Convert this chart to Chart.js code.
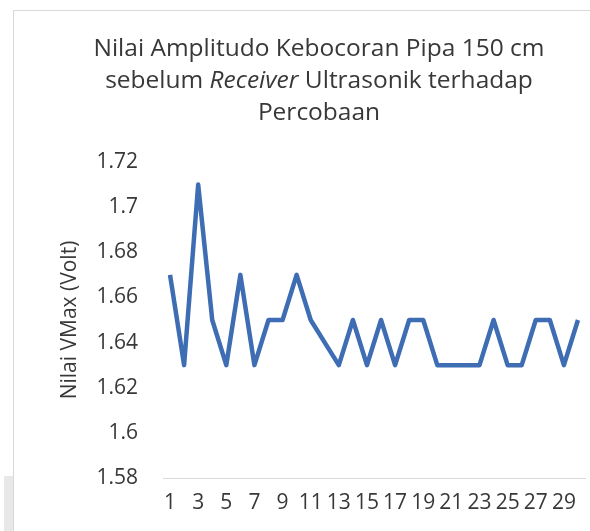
<!DOCTYPE html>
<html>
<head>
<meta charset="utf-8">
<script src="https://cdn.jsdelivr.net/npm/chart.js@4"></script>
<style>
  html, body { margin: 0; padding: 0; background: #fff; }
  #wrap { position: relative; width: 590px; height: 531px; overflow: hidden; }
  #frame { position: absolute; left: 13px; top: 10px; width: 600px; height: 600px;
           border-left: 1px solid #d9d9d9; border-top: 1px solid #d9d9d9; }
  #shade { position: absolute; left: 4px; top: 476px; width: 9px; height: 60px; background: #e8e8e8; }
  #title { position: absolute; left: 40px; width: 558px; top: 31px; text-align: center;
           font-family: "Open Sans", sans-serif; font-size: 24.5px; font-weight: 500;
           line-height: 32px; color: #383838; }
  canvas { position: absolute; left: 0; top: 0; }
</style>
</head>
<body>
<div id="wrap">
  <div id="frame"></div>
  <div id="shade"></div>
  <canvas id="chart" width="590" height="531"></canvas>
  <div id="title">Nilai Amplitudo Kebocoran Pipa 150 cm<br>sebelum <i>Receiver</i> Ultrasonik terhadap<br>Percobaan</div>
</div>
<script>
// percobaan (trial number) 1..30
const trials = [1, 2, 3, 4, 5, 6, 7, 8, 9, 10, 11, 12, 13, 14, 15,
                16, 17, 18, 19, 20, 21, 22, 23, 24, 25, 26, 27, 28, 29, 30];
// VMax in volt
const vmax = [1.67, 1.63, 1.71, 1.65, 1.63, 1.67, 1.63, 1.65, 1.65, 1.67,
              1.65, 1.64, 1.63, 1.65, 1.63, 1.65, 1.63, 1.65, 1.65, 1.63,
              1.63, 1.63, 1.63, 1.65, 1.63, 1.63, 1.65, 1.65, 1.63, 1.65];
const yMin = 1.58;
const yMax = 1.72;
const yStep = 0.02;

const textColor = '#383838';

const ctx = document.getElementById('chart').getContext('2d');
new Chart(ctx, {
    type: 'line',
    data: {
        labels: trials,
        datasets: [{
            data: vmax,
            borderColor: '#3e6db4',
            borderWidth: 4.5,
            borderJoinStyle: 'round',
            pointRadius: 0,
            tension: 0,
            fill: false
        }]
    },
    options: {
        responsive: false,
        animation: false,
        devicePixelRatio: 1,
        layout: { padding: { top: 162, right: 2, left: 0, bottom: 0 } },
        plugins: {
            legend: { display: false },
            tooltip: { enabled: false }
        },
        scales: {
            x: {
                offset: true,
                grid: { display: false, drawTicks: false },
                border: { display: true, color: '#d9d9d9', width: 1 },
                ticks: {
                    autoSkip: false,
                    maxRotation: 0,
                    padding: 12,
                    color: textColor,
                    font: { family: 'Open Sans', size: 21, weight: 500 },
                    // only every other trial is labelled
                    callback: (v, i) => (i % 2 === 0 ? String(trials[i]) : '')
                },
                afterFit: s => { s.height = 53; }
            },
            y: {
                min: yMin,
                max: yMax,
                grid: { display: false, drawTicks: false },
                border: { display: false },
                ticks: {
                    stepSize: yStep,
                    padding: 25,
                    color: textColor,
                    font: { family: 'Open Sans', size: 21, weight: 500 },
                    callback: v => String(parseFloat(v.toFixed(2)))
                },
                title: {
                    display: true,
                    text: 'Nilai VMax (Volt)',
                    color: textColor,
                    font: { family: 'Open Sans', size: 21, weight: 500 },
                    padding: { top: 57, bottom: 0 }
                },
                afterFit: s => { s.width = 163; }
            }
        }
    }
});
</script>
</body>
</html>
